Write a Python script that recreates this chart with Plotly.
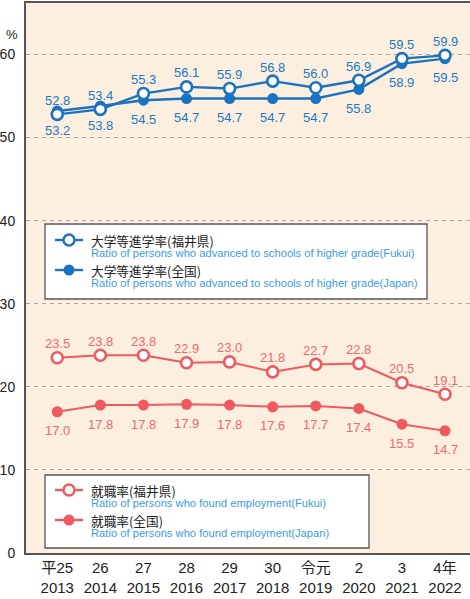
import plotly.graph_objects as go

# ---- data ----
era_labels = ["平25", "26", "27", "28", "29", "30", "令元", "2", "3", "4年"]
years = ["2013", "2014", "2015", "2016", "2017", "2018", "2019", "2020", "2021", "2022"]
adv_fukui = [52.8, 53.4, 55.3, 56.1, 55.9, 56.8, 56.0, 56.9, 59.5, 59.9]
adv_japan = [53.2, 53.8, 54.5, 54.7, 54.7, 54.7, 54.7, 55.8, 58.9, 59.5]
emp_fukui = [23.5, 23.8, 23.8, 22.9, 23.0, 21.8, 22.7, 22.8, 20.5, 19.1]
emp_japan = [17.0, 17.8, 17.8, 17.9, 17.8, 17.6, 17.7, 17.4, 15.5, 14.7]
y_ticks = [0, 10, 20, 30, 40, 50, 60]

BLUE = "#1b72bf"
BLUE_TXT = "#2079c6"
RED = "#ef5a5f"
RED_TXT = "#f0696c"
EN_TXT = "#3a9de0"
BG = "#fcefe0"
NUM_FONT = "Liberation Sans, Arial, sans-serif"
JP_FONT = "Noto Sans CJK JP, sans-serif"
MIX_FONT = "Liberation Sans, Noto Sans CJK JP, sans-serif"

W, H = 470, 599
ML, MR, MT, MB = 26, 0, 3, 46
PW, PH = W - ML - MR, H - MT - MB

def px(xp):
    return (xp - ML) / PW

def py(yp):
    return (H - MB - yp) / PH

idx = list(range(len(years)))
ticktext = [f"{a}<br>{b}" for a, b in zip(era_labels, years)]

fig = go.Figure()

def add_series(vals, color, hollow, width):
    if hollow:
        marker = dict(size=11, color="white", line=dict(color=color, width=2.6))
    else:
        marker = dict(size=11, color=color, line=dict(color=color, width=0))
    fig.add_trace(go.Scatter(
        x=idx, y=vals, mode="lines+markers",
        line=dict(color=color, width=width),
        marker=marker, showlegend=False, hoverinfo="skip",
        cliponaxis=False,
    ))

add_series(adv_japan, BLUE, False, 2.4)
add_series(adv_fukui, BLUE, True, 2.4)
add_series(emp_japan, RED, False, 2.0)
add_series(emp_fukui, RED, True, 2.0)

annotations = []
def add_labels(vals, color, above):
    for i, v in zip(idx, vals):
        annotations.append(dict(
            x=i, y=v, xref="x", yref="y", text=f"{v:.1f}", showarrow=False,
            xanchor="center", yanchor="middle",
            yshift=14 if above else -19,
            font=dict(family=NUM_FONT, size=13, color=color),
        ))

add_labels(adv_fukui, BLUE_TXT, True)
add_labels(adv_japan, BLUE_TXT, False)
add_labels(emp_fukui, RED_TXT, True)
add_labels(emp_japan, RED_TXT, False)

# % unit label
annotations.append(dict(x=px(12), y=py(34), xref="paper", yref="paper", text="%",
                        xanchor="center", yanchor="middle",
                        showarrow=False, font=dict(family=NUM_FONT, size=13, color="#222")))

shapes = []

def legend_box(x0, y0, x1, y1, entries, color):
    shapes.append(dict(type="rect", xref="paper", yref="paper",
                       x0=px(x0), x1=px(x1), y0=py(y0), y1=py(y1),
                       fillcolor="white", line=dict(color="#555", width=1.3), layer="above"))
    for (ly, jp, en, hollow) in entries:
        shapes.append(dict(type="line", xref="paper", yref="paper",
                           x0=px(55), x1=px(83), y0=py(ly), y1=py(ly),
                           line=dict(color=color, width=2.4), layer="above"))
        r = 5.5
        shapes.append(dict(type="circle", xref="paper", yref="paper",
                           x0=px(69 - r), x1=px(69 + r), y0=py(ly - r), y1=py(ly + r),
                           fillcolor="white" if hollow else color,
                           line=dict(color=color, width=2.4 if hollow else 0), layer="above"))
        annotations.append(dict(x=px(89), y=py(ly), xref="paper", yref="paper", text=jp,
                                xanchor="left", yanchor="middle", showarrow=False,
                                font=dict(family=JP_FONT, size=12.7, color="#222")))
        annotations.append(dict(x=px(89), y=py(ly + 12.5), xref="paper", yref="paper", text=en,
                                xanchor="left", yanchor="middle", showarrow=False,
                                font=dict(family=NUM_FONT, size=11.2, color=EN_TXT)))

legend_box(45, 224, 427, 299, [
    (240, "大学等進学率(福井県)", "Ratio of persons who advanced to schools of higher grade(Fukui)", True),
    (270, "大学等進学率(全国)", "Ratio of persons who advanced to schools of higher grade(Japan)", False),
], BLUE)

legend_box(45, 475, 369, 548, [
    (490, "就職率(福井県)", "Ratio of persons who found employment(Fukui)", True),
    (520, "就職率(全国)", "Ratio of persons who found employment(Japan)", False),
], RED)

fig.update_layout(
    width=W, height=H,
    margin=dict(l=ML, r=MR, t=MT, b=MB),
    paper_bgcolor="white", plot_bgcolor=BG,
    showlegend=False,
    annotations=annotations, shapes=shapes,
    xaxis=dict(
        range=[-0.726, 9.58], tickvals=idx, ticktext=ticktext,
        showgrid=False, zeroline=False,
        showline=True, mirror=True, linecolor="#555", linewidth=2,
        ticks="", tickfont=dict(family=MIX_FONT, size=15, color="#222"),
        fixedrange=True,
    ),
    yaxis=dict(
        range=[0, 66.2], tickvals=y_ticks,
        showgrid=True, gridcolor="#a9a9a9", gridwidth=1, griddash="4px,4px",
        zeroline=False, showline=True, linecolor="#555", linewidth=2,
        ticks="", ticklabelstandoff=6,
        tickfont=dict(family=NUM_FONT, size=14, color="#222"),
        fixedrange=True,
    ),
)

fig.write_html("out.html", config={"displayModeBar": False},
               post_script="document.body.style.margin='0';document.body.style.padding='0';")
